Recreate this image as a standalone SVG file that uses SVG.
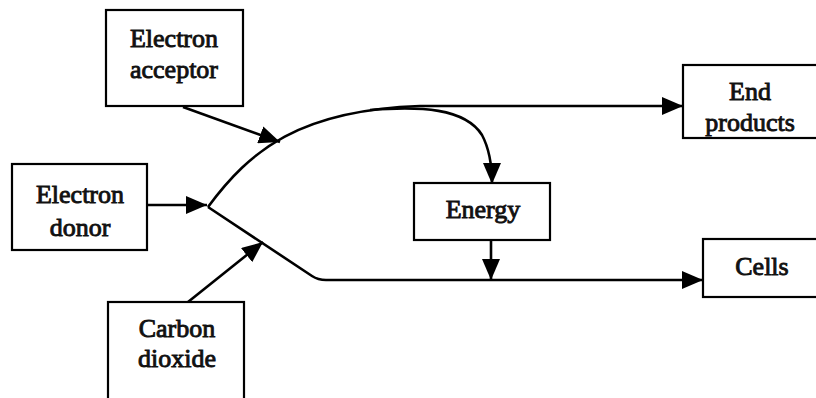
<svg xmlns="http://www.w3.org/2000/svg" width="816" height="398" viewBox="0 0 816 398">
<defs>
<marker id="ah" markerUnits="userSpaceOnUse" markerWidth="22" markerHeight="18" refX="21" refY="9" orient="auto">
<path d="M0,0 L21,9 L0,18 z" fill="#000"/>
</marker>
<style>
.box{fill:#fff;stroke:#000;stroke-width:2.2}
.lbl{font-family:"Liberation Serif","Times New Roman",serif;font-size:26px;fill:#111;stroke:#111;stroke-width:0.9;text-anchor:middle}
.ln{fill:none;stroke:#000;stroke-width:2.6}
.ar{fill:none;stroke:#000;stroke-width:2.6;marker-end:url(#ah)}
</style>
</defs>
<rect width="816" height="398" fill="#fff"/>
<g id="connectors">
<path class="ar" d="M147,205 L207,205"/>
<path class="ar" d="M183,107 L280,142"/>
<path class="ar" d="M188,302 L263,242"/>
<path class="ar" d="M208,207 C250,150 300,110 420,106 L683,106"/>
<path class="ar" d="M370,110 C420,106 465,108 482,135 C490,150 492,165 492,184"/>
<path class="ar" d="M208,207 L312,276 Q318,280 326,280 L703,280"/>
<path class="ar" d="M491,240 L491,280"/>
</g>
<g id="electron-acceptor">
<rect class="box" x="106" y="10" width="137" height="96"/>
<text class="lbl" x="174" y="47">Electron</text>
<text class="lbl" x="174" y="78">acceptor</text>
</g>
<g id="electron-donor">
<rect class="box" x="12" y="164" width="135" height="86"/>
<text class="lbl" x="80" y="203">Electron</text>
<text class="lbl" x="80" y="236">donor</text>
</g>
<g id="carbon-dioxide">
<rect class="box" x="108" y="302" width="136" height="110"/>
<text class="lbl" x="177" y="337">Carbon</text>
<text class="lbl" x="177" y="367">dioxide</text>
</g>
<g id="energy">
<rect class="box" x="414" y="183" width="136" height="57"/>
<text class="lbl" x="483" y="218">Energy</text>
</g>
<g id="end-products">
<rect class="box" x="683" y="65" width="150" height="73"/>
<text class="lbl" x="750" y="100">End</text>
<text class="lbl" x="750" y="131">products</text>
</g>
<g id="cells">
<rect class="box" x="703" y="239" width="130" height="58"/>
<text class="lbl" x="762" y="275">Cells</text>
</g>
</svg>
